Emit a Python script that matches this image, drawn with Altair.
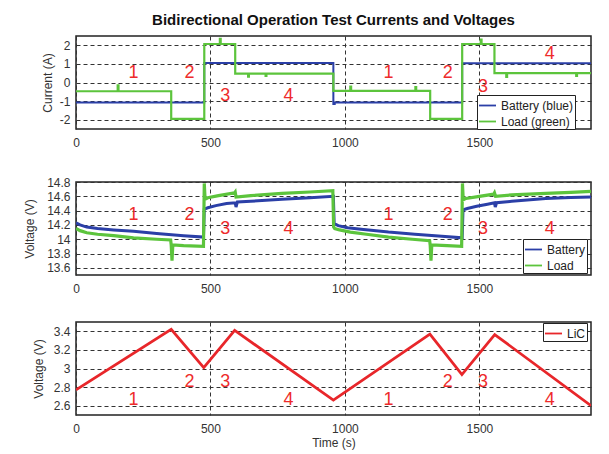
import altair as alt
import pandas as pd

FONT = "Liberation Sans"
BLUE = "#2b3fa7"
GREEN = "#5cc43c"
RED = "#e8262a"
LABEL_RED = "#ee2b2b"
X_MAX = 1915

# ---------------- Top panel: currents (A), step series ----------------
batt_i_t = [0, 477, 957, 962, 1436, 1915]
batt_i_v = [-1.08, 1.05, -1.15, -1.08, 1.03, 1.03]

load_i_t = [0, 155, 158, 354, 477, 535, 538, 592, 640, 643, 705, 708, 957,
            1020, 1023, 1262, 1265, 1317, 1436, 1505, 1508, 1556, 1600, 1603,
            1860, 1863, 1915]
load_i_v = [-0.47, -0.15, -0.47, -1.96, 2.07, 2.35, 2.07, 0.48, 0.32, 0.48,
            0.36, 0.48, -0.45, -0.22, -0.45, -0.25, -0.45, -1.96, 2.07, 2.3,
            2.07, 0.5, 0.3, 0.5, 0.36, 0.5, 0.5]

# ---------------- Middle panel: voltages (V) ----------------
batt_v_t = [0, 15, 40, 80, 140, 214, 300, 400, 474, 477, 490, 520, 560, 592,
            595, 600, 650, 766, 870, 957, 960, 975, 1010, 1060, 1162, 1260,
            1360, 1436, 1439, 1455, 1490, 1530, 1556, 1559, 1564, 1620, 1747,
            1840, 1915]
batt_v_v = [14.23, 14.2, 14.17, 14.15, 14.13, 14.11, 14.08, 14.05, 14.03,
            14.42, 14.44, 14.47, 14.5, 14.51, 14.45, 14.52, 14.53, 14.56,
            14.58, 14.6, 14.22, 14.19, 14.16, 14.14, 14.1, 14.07, 14.04,
            14.02, 14.41, 14.43, 14.46, 14.49, 14.51, 14.45, 14.51, 14.53,
            14.57, 14.585, 14.59]

load_v_t = [0, 15, 40, 80, 140, 214, 300, 352, 354, 357, 360, 400, 474, 477,
            480, 490, 530, 590, 592, 595, 650, 766, 870, 955, 958, 962, 980,
            1020, 1080, 1162, 1250, 1315, 1317, 1320, 1323, 1380, 1434, 1437,
            1440, 1450, 1500, 1553, 1556, 1560, 1620, 1747, 1840, 1915]
load_v_v = [14.15, 14.12, 14.09, 14.07, 14.05, 14.02, 14.0, 13.99, 13.92,
            13.7, 13.92, 13.91, 13.9, 14.78, 14.56, 14.58, 14.61, 14.65,
            14.66, 14.59, 14.61, 14.64, 14.66, 14.68, 14.17, 14.15, 14.13,
            14.1, 14.07, 14.03, 14.0, 13.98, 13.92, 13.7, 13.92, 13.91, 13.9,
            14.78, 14.55, 14.57, 14.6, 14.63, 14.65, 14.6, 14.62, 14.64,
            14.655, 14.67]

# ---------------- Bottom panel: LiC voltage (V) ----------------
lic_t = [0, 354, 475, 590, 957, 1316, 1435, 1557, 1915]
lic_v = [2.77, 3.42, 3.01, 3.41, 2.66, 3.37, 2.935, 3.365, 2.6]

# ---------------- Phase labels ----------------
phase_txt = ["1", "2", "3", "4", "1", "2", "3", "4"]
phase_t = [214, 422, 555, 790, 1162, 1382, 1513, 1762]
top_lab_y = [0.52, 0.52, -0.72, -0.72, 0.52, 0.52, -0.25, 1.52]
mid_lab_y = [14.34, 14.34, 14.14, 14.14, 14.34, 14.34, 14.14, 14.14]
bot_lab_y = [2.66, 2.86, 2.86, 2.66, 2.66, 2.86, 2.86, 2.66]

x_ticks = [0, 500, 1000, 1500]
top_ticks = [-2, -1, 0, 1, 2]
mid_ticks = [13.6, 13.8, 14, 14.2, 14.4, 14.6, 14.8]
bot_ticks = [2.6, 2.8, 3, 3.2, 3.4]

W, H = 515, 93


def make_panel(series, ydom, yticks, ytitle, title_pad, lab_y, legend_xy,
               legend_tail, xtitle=None):
    xaxis = alt.Axis(values=x_ticks, labelExpr="'' + datum.value",
                     labelFlush=False, grid=True, labelPadding=8,
                     titlePadding=3, **({"title": xtitle} if xtitle else {"title": None}))
    yaxis = alt.Axis(values=yticks, labelExpr="'' + datum.value",
                     labelFlush=False, grid=True, labelPadding=6,
                     title=ytitle, titlePadding=title_pad)
    xs = alt.Scale(domain=[0, X_MAX], nice=False, zero=False)
    ys = alt.Scale(domain=ydom, nice=False, zero=False)
    names = [s[0] for s in series]
    colors = [s[3] for s in series]
    legend = alt.Legend(orient="none", legendX=legend_xy[0],
                        legendY=legend_xy[1], title=None,
                        labelExpr="datum.label + '" + legend_tail + "'")
    layers = []
    for name, ts, vs, col, sw, interp in series:
        df = pd.DataFrame({"t": ts, "v": vs, "series": name})
        layers.append(
            alt.Chart(df).mark_line(strokeWidth=sw, interpolate=interp, clip=True)
            .encode(x=alt.X("t:Q", scale=xs, axis=xaxis),
                    y=alt.Y("v:Q", scale=ys, axis=yaxis),
                    color=alt.Color("series:N",
                                    scale=alt.Scale(domain=names, range=colors),
                                    legend=legend))
        )
    lab_df = pd.DataFrame({"t": phase_t, "v": lab_y, "txt": phase_txt})
    layers.append(
        alt.Chart(lab_df).mark_text(color=LABEL_RED, fontSize=18, font=FONT)
        .encode(x=alt.X("t:Q", scale=xs, axis=xaxis),
                y=alt.Y("v:Q", scale=ys, axis=yaxis),
                text="txt:N")
    )
    return alt.layer(*layers).properties(width=W, height=H)


top = make_panel(
    [("Battery (blue)", batt_i_t, batt_i_v, BLUE, 2, "step-after"),
     ("Load (green)", load_i_t, load_i_v, GREEN, 2.2, "step-after")],
    [-2.5, 2.5], top_ticks, "Current (A)", 5, top_lab_y, (401, 59),
    "\u2003\u2003\u2003",
).properties(title=alt.TitleParams(
    "Bidirectional Operation Test Currents and Voltages", fontSize=15,
    fontWeight="bold", font=FONT, anchor="middle", offset=8, color="#111"))

mid = make_panel(
    [("Battery", batt_v_t, batt_v_v, BLUE, 3, "linear"),
     ("Load", load_v_t, load_v_v, GREEN, 3.2, "linear")],
    [13.5, 14.8], mid_ticks, "Voltage (V)", 10, mid_lab_y, (447, 57),
    "\u2003\u2003",
)

bot = make_panel(
    [("LiC", lic_t, lic_v, RED, 2.8, "linear")],
    [2.5, 3.5], bot_ticks, "Voltage (V)", 8, bot_lab_y, (467, 1),
    "\u2002",
    xtitle="Time (s)",
)

chart = (
    alt.vconcat(top, mid, bot, spacing=26)
    .resolve_scale(color="independent")
    .properties(padding={"left": 14, "top": 4, "right": 5, "bottom": 2},
                background="white")
    .configure_view(stroke="#222", strokeWidth=1.5)
    .configure_axis(gridColor="#333", gridDash=[4, 3], gridOpacity=1,
                    gridWidth=1, domain=False, ticks=False,
                    labelFont=FONT, labelFontSize=12, labelColor="#333",
                    titleFont=FONT, titleFontSize=12, titleFontWeight="normal",
                    titleColor="#333")
    .configure_legend(strokeColor="#222", fillColor="white", padding=1,
                      cornerRadius=0, symbolType="stroke", symbolSize=289,
                      symbolStrokeWidth=1.8, labelFont=FONT, labelFontSize=12,
                      labelColor="#222", labelOffset=4, rowPadding=-2)
)

chart.save("out.html", embed_options={"renderer": "svg", "actions": False})
